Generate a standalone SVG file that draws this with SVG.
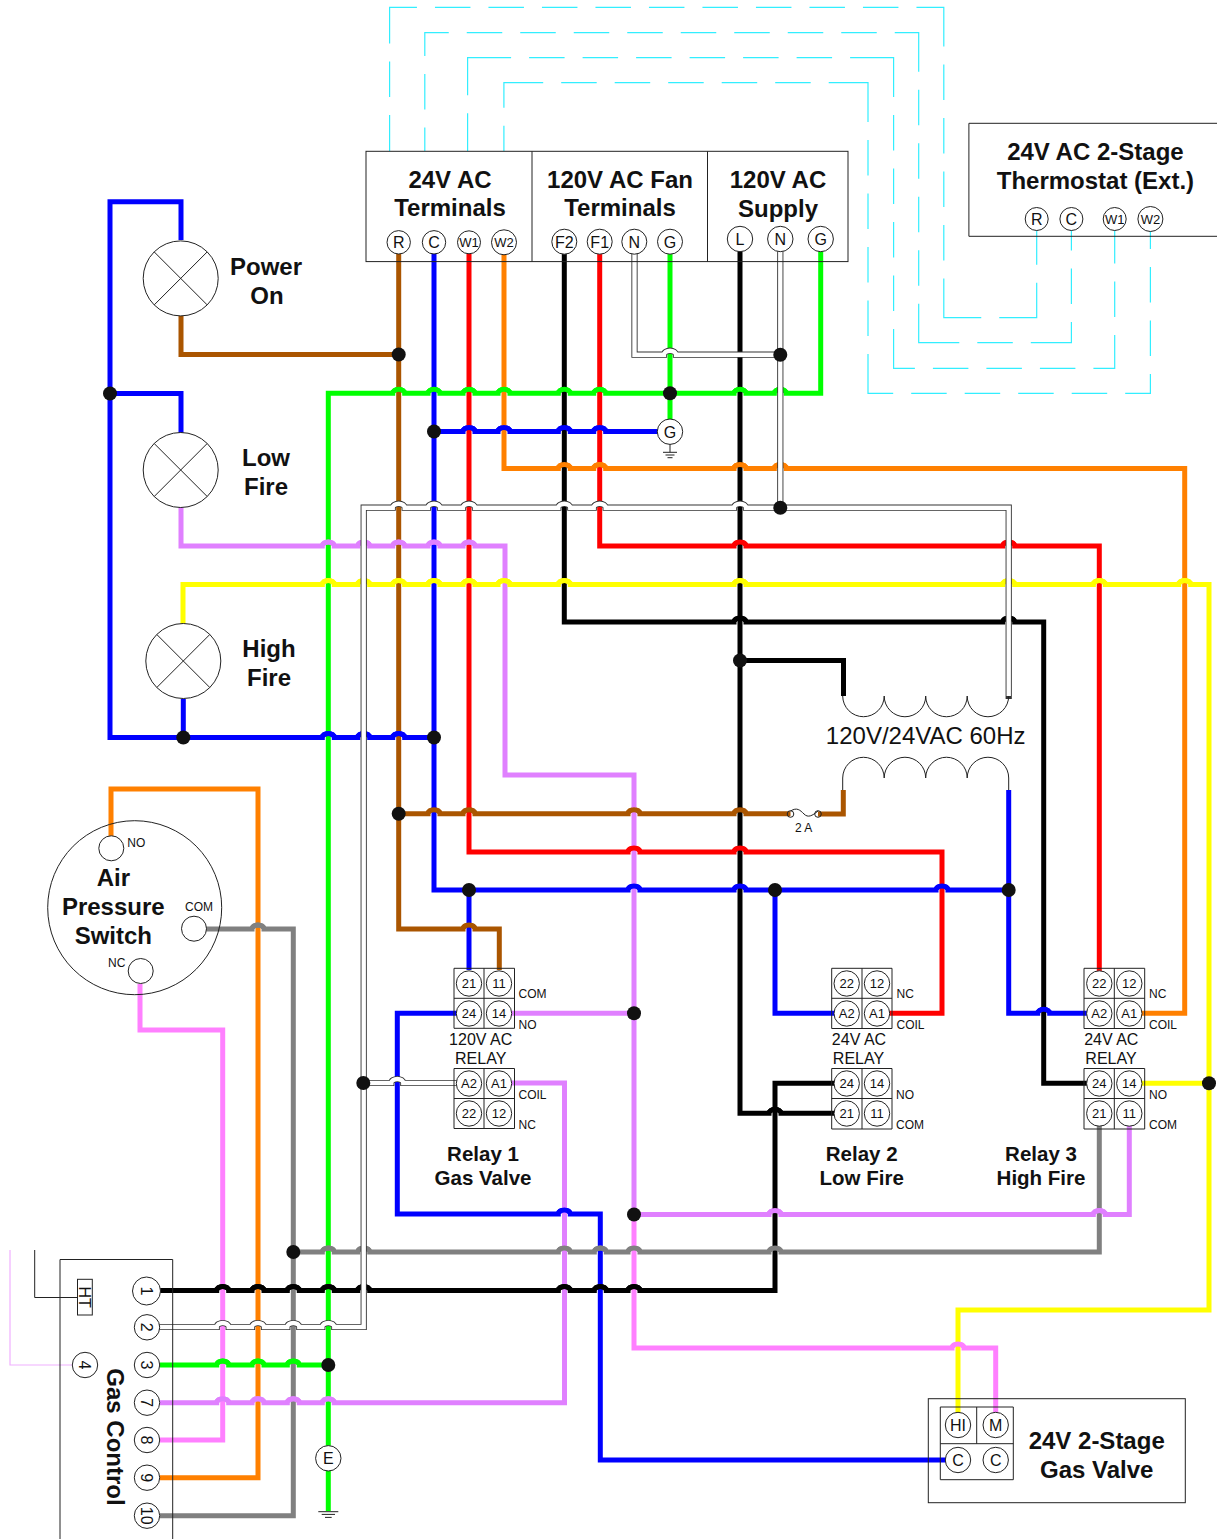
<svg xmlns="http://www.w3.org/2000/svg" xmlns:xlink="http://www.w3.org/1999/xlink" width="1217" height="1539" viewBox="0 0 1217 1539">
<style>
text{font-family:"Liberation Sans",Arial,sans-serif;fill:#111;text-anchor:middle}
.b{font-weight:bold;font-size:24px}
.t{font-weight:bold;font-size:20.5px}
.r{font-size:16px}
.s{font-size:12px}
.n{font-size:13px}
.l{text-anchor:start;font-size:12px}
.box,.thin{fill:none;stroke:#222;stroke-width:1}
.c{fill:#fff;stroke:#222;stroke-width:1}
.w{fill:none;stroke-width:5;stroke-linejoin:miter}
.brown{stroke:#aa5500}.blue{stroke:#0000ff}.red{stroke:#ff0000}.orange{stroke:#ff8000}.yellow{stroke:#ffff00}.green{stroke:#00ff00}.gray{stroke:#808080}.black{stroke:#000}.purple{stroke:#e080ff}.pink{stroke:#ff80ff}
.wo{fill:none;stroke:#333;stroke-width:6.2;stroke-linecap:square}
.wi{fill:none;stroke:#fff;stroke-width:4.4}
.cy{fill:none;stroke:#33eeff;stroke-width:1.2}
.j{fill:#111}
</style>
<defs>
<path id="wh1" d="M160 1327H216.7a6 4 0 0 1 12 0H252a6 4 0 0 1 12 0H287.3a6 4 0 0 1 12 0H322.3a6 4 0 0 1 12 0H363.7V507.7H392.7a6 4 0 0 1 12 0H428a6 4 0 0 1 12 0H463a6 4 0 0 1 12 0H558.3a6 4 0 0 1 12 0H593.7a6 4 0 0 1 12 0H734a6 4 0 0 1 12 0H1008.7V696"/>
<path id="wh2" d="M634.5 253V354.7H664a6 4 0 0 1 12 0H780.3"/>
<path id="wh3" d="M780.3 250V507.7"/>
<path id="wh4" d="M363.3 1083H391.3a6 4 0 0 1 12 0H457"/>
</defs>
<g id="connectors">
<g id="thermostat-links">
<path class="cy" stroke-dasharray="36.1 18 35.5 18 63.45 18 35.5 18 35.5 18 35.5 18 35.5 18 35.5 18 35.5 18 35.5 18 35.5 18 35.5 18 66.55 18 35.5 18 35.5 18 35.5 18 35.5 18 76.65 18 72.3 18 34.85" d="M389.6 151V7.3H943.8V317.7H1036.7V230"/>
<path class="cy" stroke-dasharray="23.4 18 35.5 18 47.35 18 35.5 18 35.5 18 35.5 18 35.5 18 35.5 18 35.5 18 35.5 18 35.5 18 62.95 18 35.5 18 35.5 18 35.5 18 35.5 18 79.6 18 35.5 18 61.2 18 35.5 18 20.6" d="M424.8 151V32.7H918.7V342.7H1071.4V230"/>
<path class="cy" stroke-dasharray="37.65 18 81.15 18 35.5 18 35.5 18 35.5 18 35.5 18 35.5 18 35.5 18 82.8 18 35.5 18 35.5 18 35.5 18 35.5 18 60.6 18 35.5 18 35.5 18 35.5 18 54.7 18 35.5 18 33.4" d="M467.6 151V57.7H893.6V368.3H1114.7V230"/>
<path class="cy" stroke-dasharray="25.15 18 64.45 18 35.5 18 35.5 18 35.5 18 35.5 18 35.5 18 78.6 18 35.5 18 35.5 18 35.5 18 35.5 18 64.5 18 35.5 18 35.5 18 35.5 18 35.5 18 44.4 18 35.5 18 35.5 18 19.2" d="M503.9 151V82.7H868V393.3H1150.4V230"/>
</g>
<path class="thin" d="M77.5 1297.5H34.7V1250"/>
<path fill="none" stroke="#f0b0ff" stroke-width="1.2" d="M72 1365H10V1250"/>
<path class="w green" d="M328.3 1511V393.3H392.7a6 4 0 0 1 12 0H428a6 4 0 0 1 12 0H463a6 4 0 0 1 12 0H498a6 4 0 0 1 12 0H558.3a6 4 0 0 1 12 0H593.7a6 4 0 0 1 12 0H734a6 4 0 0 1 12 0H774.3a6 4 0 0 1 12 0H820.7V250"/>
<path class="w green" d="M670 253V431"/>
<path class="w brown" d="M398.7 254V929H463a6 4 0 0 1 12 0H499.3V970"/>
<path class="w brown" d="M181 316V354.5H398.7"/>
<path class="w brown" d="M398.7 813.7H428a6 4 0 0 1 12 0H463a6 4 0 0 1 12 0H628a6 4 0 0 1 12 0H734a6 4 0 0 1 12 0H790.5"/>
<path class="w brown" d="M818 814H843.3V790"/>
<path class="w blue" d="M181 240V201.8H110V737.5H322.3a6 4 0 0 1 12 0H357.7a6 4 0 0 1 12 0H392.7a6 4 0 0 1 12 0H434"/>
<path class="w blue" d="M110 393.5H181V433"/>
<path class="w blue" d="M183.3 699V737.5"/>
<path class="w blue" d="M434 253V890H628a6 4 0 0 1 12 0H734a6 4 0 0 1 12 0H936a6 4 0 0 1 12 0H1008.7"/>
<path class="w blue" d="M434 431.5H463a6 4 0 0 1 12 0H498a6 4 0 0 1 12 0H558.3a6 4 0 0 1 12 0H593.7a6 4 0 0 1 12 0H658"/>
<path class="w blue" d="M469 890V970"/>
<path class="w blue" d="M457 1013.3H397.3V1214H558.3a6 4 0 0 1 12 0H600.3V1460H946"/>
<path class="w blue" d="M775 890V1013.3H835"/>
<path class="w blue" d="M1008.7 790V1013.3H1037.7a6 4 0 0 1 12 0H1087"/>
<path class="w red" d="M469 253V852H628a6 4 0 0 1 12 0H734a6 4 0 0 1 12 0H942V1013.3H888"/>
<path class="w red" d="M599.7 253V546H734a6 4 0 0 1 12 0H1002.7a6 4 0 0 1 12 0H1099.3V972"/>
<path class="w orange" d="M504 253V468.5H558.3a6 4 0 0 1 12 0H593.7a6 4 0 0 1 12 0H734a6 4 0 0 1 12 0H774.3a6 4 0 0 1 12 0H1184.7V1013.3H1141"/>
<path class="w orange" d="M160 1477.7H258V789H111V838"/>
<path class="w gray" d="M205 929H252a6 4 0 0 1 12 0H293.3V1515.7H160"/>
<path class="w gray" d="M293.3 1252H322.3a6 4 0 0 1 12 0H357.7a6 4 0 0 1 12 0H558.3a6 4 0 0 1 12 0H594.3a6 4 0 0 1 12 0H628a6 4 0 0 1 12 0H769a6 4 0 0 1 12 0H1099.3V1126"/>
<path class="w purple" d="M181 506V546H322.3a6 4 0 0 1 12 0H357.7a6 4 0 0 1 12 0H392.7a6 4 0 0 1 12 0H428a6 4 0 0 1 12 0H463a6 4 0 0 1 12 0H505V775H634V1214.5H769a6 4 0 0 1 12 0H1093.3a6 4 0 0 1 12 0H1129.3V1126"/>
<path class="w purple" d="M510 1013.3H634"/>
<path class="w purple" d="M160 1402.7H216.7a6 4 0 0 1 12 0H252a6 4 0 0 1 12 0H287.3a6 4 0 0 1 12 0H322.3a6 4 0 0 1 12 0H564.5V1083H510"/>
<path class="w pink" d="M634 1214.5V1348H952a6 4 0 0 1 12 0H995.7V1414"/>
<path class="w pink" d="M140 984V1030H222.7V1440H160"/>
<path class="w green" d="M160 1365H216.7a6 4 0 0 1 12 0H252a6 4 0 0 1 12 0H287.3a6 4 0 0 1 12 0H328.3"/>
<path class="w black" d="M564.3 253V622H734a6 4 0 0 1 12 0H1002.7a6 4 0 0 1 12 0H1043.7V1083.3H1087"/>
<path class="w black" d="M740 250V1113.3H769a6 4 0 0 1 12 0H835"/>
<path class="w black" d="M740 660.5H843.5V696"/>
<path class="w black" d="M160 1290.5H216.7a6 4 0 0 1 12 0H252a6 4 0 0 1 12 0H287.3a6 4 0 0 1 12 0H322.3a6 4 0 0 1 12 0H357.7a6 4 0 0 1 12 0H558.3a6 4 0 0 1 12 0H594.3a6 4 0 0 1 12 0H628a6 4 0 0 1 12 0H775V1083.3H835"/>
<path class="w yellow" d="M183 626V584.5H322.3a6 4 0 0 1 12 0H357.7a6 4 0 0 1 12 0H392.7a6 4 0 0 1 12 0H428a6 4 0 0 1 12 0H463a6 4 0 0 1 12 0H498a6 4 0 0 1 12 0H558.3a6 4 0 0 1 12 0H734a6 4 0 0 1 12 0H1002.7a6 4 0 0 1 12 0H1093.3a6 4 0 0 1 12 0H1178.7a6 4 0 0 1 12 0H1209V1310H958V1414"/>
<path class="w yellow" d="M1141 1083.3H1209"/>
<g id="hops">
<path class="w yellow" d="M322.3 584.5a6 4 0 0 1 12 0M357.7 584.5a6 4 0 0 1 12 0M392.7 584.5a6 4 0 0 1 12 0M428 584.5a6 4 0 0 1 12 0M463 584.5a6 4 0 0 1 12 0M498 584.5a6 4 0 0 1 12 0M558.3 584.5a6 4 0 0 1 12 0M734 584.5a6 4 0 0 1 12 0M1002.7 584.5a6 4 0 0 1 12 0M1093.3 584.5a6 4 0 0 1 12 0M1178.7 584.5a6 4 0 0 1 12 0"/>
<path class="w pink" d="M952 1348a6 4 0 0 1 12 0"/>
<path class="w purple" d="M322.3 546a6 4 0 0 1 12 0M357.7 546a6 4 0 0 1 12 0M392.7 546a6 4 0 0 1 12 0M428 546a6 4 0 0 1 12 0M463 546a6 4 0 0 1 12 0M769 1214.5a6 4 0 0 1 12 0M1093.3 1214.5a6 4 0 0 1 12 0M216.7 1402.7a6 4 0 0 1 12 0M252 1402.7a6 4 0 0 1 12 0M287.3 1402.7a6 4 0 0 1 12 0M322.3 1402.7a6 4 0 0 1 12 0"/>
<path class="w gray" d="M252 929a6 4 0 0 1 12 0M322.3 1252a6 4 0 0 1 12 0M357.7 1252a6 4 0 0 1 12 0M558.3 1252a6 4 0 0 1 12 0M594.3 1252a6 4 0 0 1 12 0M628 1252a6 4 0 0 1 12 0M769 1252a6 4 0 0 1 12 0"/>
<path class="w black" d="M734 622a6 4 0 0 1 12 0M1002.7 622a6 4 0 0 1 12 0M769 1113.3a6 4 0 0 1 12 0M216.7 1290.5a6 4 0 0 1 12 0M252 1290.5a6 4 0 0 1 12 0M287.3 1290.5a6 4 0 0 1 12 0M322.3 1290.5a6 4 0 0 1 12 0M357.7 1290.5a6 4 0 0 1 12 0M558.3 1290.5a6 4 0 0 1 12 0M594.3 1290.5a6 4 0 0 1 12 0M628 1290.5a6 4 0 0 1 12 0"/>
<path class="w green" d="M392.7 393.3a6 4 0 0 1 12 0M428 393.3a6 4 0 0 1 12 0M463 393.3a6 4 0 0 1 12 0M498 393.3a6 4 0 0 1 12 0M558.3 393.3a6 4 0 0 1 12 0M593.7 393.3a6 4 0 0 1 12 0M734 393.3a6 4 0 0 1 12 0M774.3 393.3a6 4 0 0 1 12 0M216.7 1365a6 4 0 0 1 12 0M252 1365a6 4 0 0 1 12 0M287.3 1365a6 4 0 0 1 12 0"/>
<path class="w brown" d="M463 929a6 4 0 0 1 12 0M428 813.7a6 4 0 0 1 12 0M463 813.7a6 4 0 0 1 12 0M628 813.7a6 4 0 0 1 12 0M734 813.7a6 4 0 0 1 12 0"/>
<path class="w blue" d="M322.3 737.5a6 4 0 0 1 12 0M357.7 737.5a6 4 0 0 1 12 0M392.7 737.5a6 4 0 0 1 12 0M628 890a6 4 0 0 1 12 0M734 890a6 4 0 0 1 12 0M936 890a6 4 0 0 1 12 0M463 431.5a6 4 0 0 1 12 0M498 431.5a6 4 0 0 1 12 0M558.3 431.5a6 4 0 0 1 12 0M593.7 431.5a6 4 0 0 1 12 0M558.3 1214a6 4 0 0 1 12 0M1037.7 1013.3a6 4 0 0 1 12 0"/>
<path class="w red" d="M628 852a6 4 0 0 1 12 0M734 852a6 4 0 0 1 12 0M734 546a6 4 0 0 1 12 0M1002.7 546a6 4 0 0 1 12 0"/>
<path class="w orange" d="M558.3 468.5a6 4 0 0 1 12 0M593.7 468.5a6 4 0 0 1 12 0M734 468.5a6 4 0 0 1 12 0M774.3 468.5a6 4 0 0 1 12 0"/>
</g>
<use xlink:href="#wh1" href="#wh1" class="wo"/><use xlink:href="#wh1" href="#wh1" class="wi"/>
<use xlink:href="#wh2" href="#wh2" class="wo"/><use xlink:href="#wh2" href="#wh2" class="wi"/>
<use xlink:href="#wh3" href="#wh3" class="wo"/><use xlink:href="#wh3" href="#wh3" class="wi"/>
<use xlink:href="#wh4" href="#wh4" class="wo"/><use xlink:href="#wh4" href="#wh4" class="wi"/>
<g id="junctions" class="j">
<circle cx="398.7" cy="354.5" r="7"/><circle cx="110" cy="393.5" r="7"/><circle cx="670" cy="393.3" r="7"/><circle cx="434" cy="431.5" r="7"/><circle cx="780.3" cy="354.7" r="7"/><circle cx="780.3" cy="507.7" r="7"/><circle cx="740" cy="660.5" r="7"/><circle cx="183.3" cy="737.5" r="7"/><circle cx="434" cy="737.5" r="7"/><circle cx="398.7" cy="813.7" r="7"/><circle cx="469" cy="890" r="7"/><circle cx="775" cy="890" r="7"/><circle cx="1008.7" cy="890" r="7"/><circle cx="634" cy="1013.3" r="7"/><circle cx="1209" cy="1083.3" r="7"/><circle cx="363.3" cy="1083" r="7"/><circle cx="634" cy="1214.5" r="7"/><circle cx="293.3" cy="1252" r="7"/><circle cx="328.3" cy="1365" r="7"/>
</g>
</g>
<g id="furnace-terminals">
<rect class="box" x="366" y="151.3" width="482" height="110.3"/>
<path class="box" d="M532 151.3V261.6M707.5 151.3V261.6"/>
<text class="b" x="450" y="188">24V AC</text><text class="b" x="450" y="216">Terminals</text>
<text class="b" x="620" y="188">120V AC Fan</text><text class="b" x="620" y="216">Terminals</text>
<text class="b" x="778" y="188">120V AC</text><text class="b" x="778" y="217">Supply</text>
<circle class="c" cx="398.7" cy="242.3" r="11.7"/><text class="r" x="398.7" y="247.8">R</text>
<circle class="c" cx="434" cy="242.3" r="11.7"/><text class="r" x="434" y="247.8">C</text>
<circle class="c" cx="469" cy="242.3" r="11.5"/><text class="n" x="469" y="247">W1</text>
<circle class="c" cx="504" cy="242.3" r="12.5"/><text class="n" x="504" y="247">W2</text>
<circle class="c" cx="564.3" cy="241.7" r="12.5"/><text class="r" x="564.3" y="247.5">F2</text>
<circle class="c" cx="599.7" cy="241.7" r="12.5"/><text class="r" x="599.7" y="247.5">F1</text>
<circle class="c" cx="634.3" cy="241.7" r="12.5"/><text class="r" x="634.3" y="247.5">N</text>
<circle class="c" cx="670" cy="241.7" r="12.5"/><text class="r" x="670" y="247.5">G</text>
<circle class="c" cx="740" cy="239" r="12.7"/><text class="r" x="740" y="244.8">L</text>
<circle class="c" cx="780.3" cy="239" r="12.7"/><text class="r" x="780.3" y="244.8">N</text>
<circle class="c" cx="820.7" cy="239" r="12.7"/><text class="r" x="820.7" y="244.8">G</text>
</g>
<g id="thermostat">
<path class="box" d="M1217 123.3H968.9V236.3H1217"/>
<text class="b" x="1095.4" y="160">24V AC 2-Stage</text><text class="b" x="1095.4" y="189">Thermostat (Ext.)</text>
<circle class="c" cx="1036.7" cy="219" r="11.5"/><text class="r" x="1036.7" y="224.8">R</text>
<circle class="c" cx="1071.4" cy="219" r="11.5"/><text class="r" x="1071.4" y="224.8">C</text>
<circle class="c" cx="1114.7" cy="219" r="11.5"/><text class="n" x="1114.7" y="223.5">W1</text>
<circle class="c" cx="1150.4" cy="219" r="12.5"/><text class="n" x="1150.4" y="223.5">W2</text>
</g>
<g id="ground-g">
<circle class="c" cx="670" cy="431.7" r="12.7"/><text class="r" x="670" y="437.5">G</text>
<path class="thin" d="M670 444.4V452.3M663 452.3H677M665.5 455H674.5M667.5 457.7H672.5"/>
</g>
<g id="lamp-power">
<circle class="c" cx="180.7" cy="278.4" r="37.5"/>
<path class="thin" d="M154.2 251.9L207.2 304.9M207.2 251.9L154.2 304.9"/>
<text class="b" x="266" y="275">Power</text><text class="b" x="267" y="304">On</text>
</g>
<g id="lamp-low">
<circle class="c" cx="180.7" cy="470" r="37.5"/>
<path class="thin" d="M154.2 443.5L207.2 496.5M207.2 443.5L154.2 496.5"/>
<text class="b" x="266" y="466">Low</text><text class="b" x="266" y="495">Fire</text>
</g>
<g id="lamp-high">
<circle class="c" cx="183.3" cy="661" r="37.5"/>
<path class="thin" d="M156.8 634.5L209.8 687.5M209.8 634.5L156.8 687.5"/>
<text class="b" x="269" y="657">High</text><text class="b" x="269" y="686">Fire</text>
</g>
<g id="transformer">
<path class="thin" d="M842.7 696a20.75 20.75 0 0 0 41.5 0a20.75 20.75 0 0 0 41.5 0a20.75 20.75 0 0 0 41.5 0a20.75 20.75 0 0 0 41.5 0"/>
<path class="thin" d="M842.7 790V778a20.75 20.75 0 0 1 41.5 0a20.75 20.75 0 0 1 41.5 0a20.75 20.75 0 0 1 41.5 0a20.75 20.75 0 0 1 41.5 0V790"/>
<text x="925.7" y="743.5" style="font-size:24px">120V/24VAC 60Hz</text>
</g>
<g id="fuse">
<circle class="box" cx="790.5" cy="814" r="3.3"/><circle class="box" cx="818" cy="814" r="3.3"/>
<path class="thin" d="M790.5 811C797 807 800 810 804 814C808 818 812 816 818 811"/>
<text class="s" x="803.7" y="831.7">2 A</text>
</g>
<g id="air-pressure-switch">
<circle class="box" cx="134.7" cy="907.7" r="87"/>
<text class="b" x="113.3" y="886">Air</text><text class="b" x="113.3" y="915">Pressure</text><text class="b" x="113.3" y="944">Switch</text>
<circle class="c" cx="111.3" cy="848.3" r="12.5"/><text class="l" x="127.3" y="846.7">NO</text>
<circle class="c" cx="194" cy="928.7" r="12.5"/><text class="l" x="185" y="910.7">COM</text>
<circle class="c" cx="140.7" cy="971" r="12.5"/><text class="l" x="108" y="967">NC</text>
</g>
<g id="relay-1">
<path class="box" d="M454 968.3H514.5V1028.3H454ZM484 968.3V1028.3M454 998.3H514.5"/>
<circle class="c" cx="469" cy="983.5" r="12.7"/><text class="n" x="469" y="988">21</text>
<circle class="c" cx="499" cy="983.5" r="12.7"/><text class="n" x="499" y="988">11</text>
<circle class="c" cx="469" cy="1013.5" r="12.7"/><text class="n" x="469" y="1018">24</text>
<circle class="c" cx="499" cy="1013.5" r="12.7"/><text class="n" x="499" y="1018">14</text>
<text class="l" x="518.5" y="997.7">COM</text><text class="l" x="518.5" y="1029">NO</text>
<text class="r" x="480.7" y="1045">120V AC</text><text class="r" x="480.7" y="1064">RELAY</text>
<path class="box" d="M454 1068.5H514.5V1128.5H454ZM484 1068.5V1128.5M454 1098.5H514.5"/>
<circle class="c" cx="469" cy="1083.5" r="12.7"/><text class="n" x="469" y="1088">A2</text>
<circle class="c" cx="499" cy="1083.5" r="12.7"/><text class="n" x="499" y="1088">A1</text>
<circle class="c" cx="469" cy="1113.5" r="12.7"/><text class="n" x="469" y="1118">22</text>
<circle class="c" cx="499" cy="1113.5" r="12.7"/><text class="n" x="499" y="1118">12</text>
<text class="l" x="518.5" y="1099">COIL</text><text class="l" x="518.5" y="1129">NC</text>
<text class="t" x="483" y="1160.7">Relay 1</text><text class="t" x="483" y="1185">Gas Valve</text>
</g>
<g id="relay-2">
<path class="box" d="M831.7 968.3H892V1028.5H831.7ZM862 968.3V1028.5M831.7 998.3H892"/>
<circle class="c" cx="846.7" cy="983.5" r="12.7"/><text class="n" x="846.7" y="988">22</text>
<circle class="c" cx="877" cy="983.5" r="12.7"/><text class="n" x="877" y="988">12</text>
<circle class="c" cx="846.7" cy="1013.5" r="12.7"/><text class="n" x="846.7" y="1018">A2</text>
<circle class="c" cx="877" cy="1013.5" r="12.7"/><text class="n" x="877" y="1018">A1</text>
<text class="l" x="896.5" y="997.7">NC</text><text class="l" x="896.5" y="1028.5">COIL</text>
<text class="r" x="859" y="1045">24V AC</text><text class="r" x="858.5" y="1064">RELAY</text>
<path class="box" d="M831.7 1068.5H892V1129H831.7ZM862 1068.5V1129M831.7 1098.5H892"/>
<circle class="c" cx="846.7" cy="1083.5" r="12.7"/><text class="n" x="846.7" y="1088">24</text>
<circle class="c" cx="877" cy="1083.5" r="12.7"/><text class="n" x="877" y="1088">14</text>
<circle class="c" cx="846.7" cy="1113.5" r="12.7"/><text class="n" x="846.7" y="1118">21</text>
<circle class="c" cx="877" cy="1113.5" r="12.7"/><text class="n" x="877" y="1118">11</text>
<text class="l" x="896" y="1098.5">NO</text><text class="l" x="896" y="1128.5">COM</text>
<text class="t" x="861.7" y="1160.7">Relay 2</text><text class="t" x="861.7" y="1184.5">Low Fire</text>
</g>
<g id="relay-3">
<path class="box" d="M1084 968.3H1144.7V1028.5H1084ZM1114.3 968.3V1028.5M1084 998.3H1144.7"/>
<circle class="c" cx="1099.3" cy="983.5" r="12.7"/><text class="n" x="1099.3" y="988">22</text>
<circle class="c" cx="1129.3" cy="983.5" r="12.7"/><text class="n" x="1129.3" y="988">12</text>
<circle class="c" cx="1099.3" cy="1013.5" r="12.7"/><text class="n" x="1099.3" y="1018">A2</text>
<circle class="c" cx="1129.3" cy="1013.5" r="12.7"/><text class="n" x="1129.3" y="1018">A1</text>
<text class="l" x="1149" y="997.7">NC</text><text class="l" x="1149" y="1028.5">COIL</text>
<text class="r" x="1111.3" y="1045">24V AC</text><text class="r" x="1111" y="1064">RELAY</text>
<path class="box" d="M1084 1068.5H1144.7V1129H1084ZM1114.3 1068.5V1129M1084 1098.5H1144.7"/>
<circle class="c" cx="1099.3" cy="1083.5" r="12.7"/><text class="n" x="1099.3" y="1088">24</text>
<circle class="c" cx="1129.3" cy="1083.5" r="12.7"/><text class="n" x="1129.3" y="1088">14</text>
<circle class="c" cx="1099.3" cy="1113.5" r="12.7"/><text class="n" x="1099.3" y="1118">21</text>
<circle class="c" cx="1129.3" cy="1113.5" r="12.7"/><text class="n" x="1129.3" y="1118">11</text>
<text class="l" x="1149" y="1098.5">NO</text><text class="l" x="1149" y="1128.5">COM</text>
<text class="t" x="1041" y="1160.7">Relay 3</text><text class="t" x="1041" y="1184.5">High Fire</text>
</g>
<g id="gas-control">
<path class="box" d="M60 1539V1259.5H172.7V1539"/>
<rect class="box" x="77.5" y="1279.3" width="14.8" height="35.7"/>
<text class="r" transform="rotate(90 85 1297.2)" x="85" y="1302.8">HT</text>
<circle class="c" cx="146.5" cy="1291" r="14"/><text class="r" transform="rotate(90 146.5 1291)" x="146.5" y="1296.8">1</text>
<circle class="c" cx="147" cy="1327.3" r="12.7"/><text class="r" transform="rotate(90 147 1327.3)" x="147" y="1333">2</text>
<circle class="c" cx="147" cy="1365" r="12.7"/><text class="r" transform="rotate(90 147 1365)" x="147" y="1370.8">3</text>
<circle class="c" cx="147" cy="1402.7" r="12.7"/><text class="r" transform="rotate(90 147 1402.7)" x="147" y="1408.5">7</text>
<circle class="c" cx="147" cy="1440" r="12.7"/><text class="r" transform="rotate(90 147 1440)" x="147" y="1445.8">8</text>
<circle class="c" cx="147" cy="1477.7" r="12.7"/><text class="r" transform="rotate(90 147 1477.7)" x="147" y="1483.5">9</text>
<circle class="c" cx="147" cy="1515.7" r="12.7"/><text class="r" transform="rotate(90 147 1515.7)" x="147" y="1521.5">10</text>
<circle class="c" cx="85" cy="1365" r="12.7"/><text class="r" transform="rotate(90 85 1365)" x="85" y="1370.8">4</text>
<text class="b" transform="rotate(90 107 1437)" x="107" y="1437">Gas Control</text>
</g>
<g id="ground-e">
<circle class="c" cx="328.3" cy="1458.3" r="12.7"/><text class="r" x="328.3" y="1464">E</text>
<path class="thin" d="M318.3 1511.7H338.3M321.7 1514.4H335M325 1517.4H331.7"/>
</g>
<g id="gas-valve">
<rect class="box" x="928.3" y="1398.7" width="257" height="104"/>
<path class="box" d="M940.3 1407H1013.3V1479.7H940.3ZM940.3 1443.7H1013.3M976.7 1407V1443.7"/>
<circle class="c" cx="958" cy="1425" r="12.7"/><text class="r" x="958" y="1430.8">HI</text>
<circle class="c" cx="995.7" cy="1425" r="12.7"/><text class="r" x="995.7" y="1430.8">M</text>
<circle class="c" cx="958" cy="1460" r="12.7"/><text class="r" x="958" y="1465.8">C</text>
<circle class="c" cx="995.7" cy="1460" r="12.7"/><text class="r" x="995.7" y="1465.8">C</text>
<text class="b" x="1096.7" y="1449">24V 2-Stage</text><text class="b" x="1096.7" y="1478">Gas Valve</text>
</g>
</svg>
